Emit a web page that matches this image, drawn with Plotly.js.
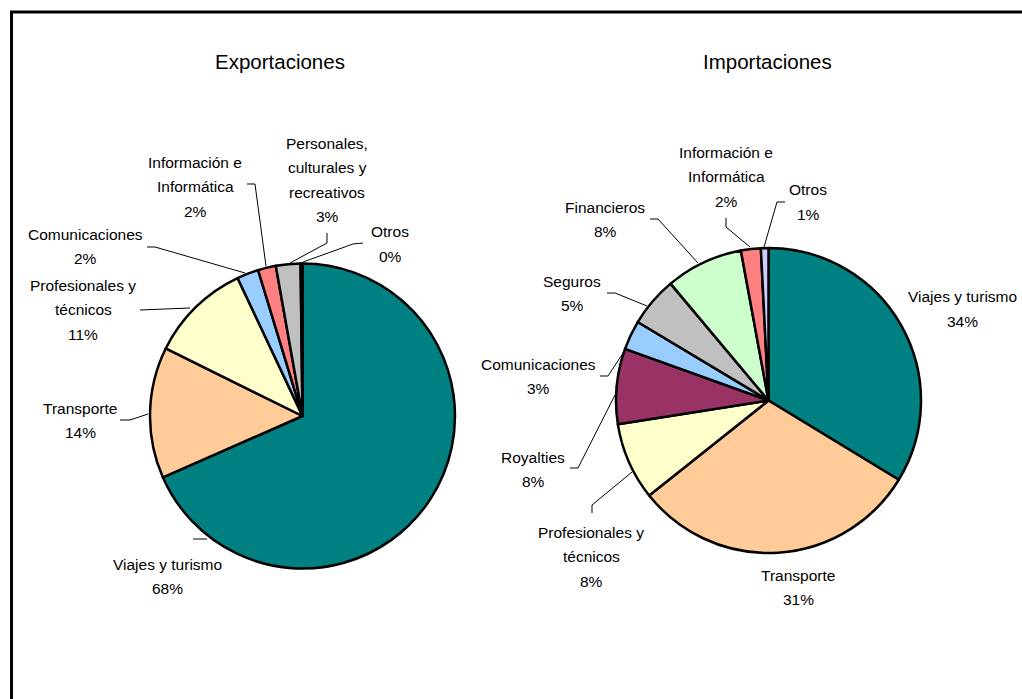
<!DOCTYPE html>
<html>
<head>
<meta charset="utf-8">
<script src="https://cdn.plot.ly/plotly-3.0.1.min.js"></script>
<style>html,body{margin:0;padding:0;background:#fff;}#chart{width:1022px;height:699px;}</style>
</head>
<body>
<div id="chart"></div>
<script>
// ---- data ----
const expTitle = 'Exportaciones';
const impTitle = 'Importaciones';

const expLabels = ['Viajes y turismo', 'Transporte', 'Profesionales y técnicos', 'Comunicaciones',
  'Información e Informática', 'Personales, culturales y recreativos', 'Otros'];
const expValues = [68.4, 13.9, 10.7, 2.3, 1.9, 2.6, 0.2];
const expLines = [['Viajes y turismo'], ['Transporte'], ['Profesionales y', 'técnicos'], ['Comunicaciones'],
  ['Información e', 'Informática'], ['Personales,', 'culturales y', 'recreativos'], ['Otros']];
const expColors = ['#008080', '#FFCC99', '#FFFFCC', '#99CCFF', '#FF8080', '#C0C0C0', '#000000'];

const impLabels = ['Viajes y turismo', 'Transporte', 'Profesionales y técnicos', 'Royalties', 'Comunicaciones',
  'Seguros', 'Financieros', 'Información e Informática', 'Otros'];
const impValues = [33.7, 30.6, 8.2, 8.0, 3.1, 5.3, 8.2, 2.1, 0.8];
const impLines = [['Viajes y turismo'], ['Transporte'], ['Profesionales y', 'técnicos'], ['Royalties'], ['Comunicaciones'],
  ['Seguros'], ['Financieros'], ['Información e', 'Informática'], ['Otros']];
const impColors = ['#008080', '#FFCC99', '#FFFFCC', '#993366', '#99CCFF', '#C0C0C0', '#CCFFCC', '#FF8080', '#CCCCFF'];

// ---- layout (pixel positions) ----
const W = 1022, H = 699;
const px = x => x / W;
const py = y => 1 - y / H;

const expLabelPos = [[167, 564], [80, 408], [83, 285], [85, 234], [195, 162], [327, 143], [390, 232]];
const impLabelPos = [[962, 297], [798, 575], [591, 532], [533, 457], [538, 364], [572, 281], [605, 207], [726, 152], [808, 190]];

const expLeaders = [
  [[193, 539], [207, 539]],
  [[120, 420], [130, 420], [148, 414]],
  [[140, 310], [190, 308]],
  [[147, 247], [155, 247], [245, 273]],
  [[247, 184], [255, 184], [266, 266]],
  [[327, 233], [327, 243], [290, 263]],
  [[363, 243], [353, 244], [303, 262]]
];
const impLeaders = [
  [[592, 513], [592, 505], [632, 472]],
  [[570, 468], [578, 468], [615, 395]],
  [[600, 376], [608, 376], [625, 350]],
  [[607, 293], [615, 293], [647, 306]],
  [[650, 219], [658, 219], [698, 263]],
  [[726, 218], [726, 227], [750, 247]],
  [[785, 202], [777, 202], [764, 247]]
];

const FONT = 'Liberation Sans, Arial, sans-serif';
const LINE = 24.5;

function pctText(values) {
  const s = values.reduce((a, b) => a + b, 0);
  return values.map(v => Math.round(v / s * 100) + '%');
}

const annotations = [];
function addLabels(lines, values, pos) {
  const pct = pctText(values);
  lines.forEach((ls, i) => {
    const all = ls.concat([pct[i]]);
    all.forEach((t, k) => {
      annotations.push({
        text: t, showarrow: false, xref: 'paper', yref: 'paper',
        x: px(pos[i][0]), y: py(pos[i][1] + k * LINE),
        xanchor: 'center', yanchor: 'middle',
        font: {family: FONT, size: 15.5, color: '#000'}
      });
    });
  });
}
addLabels(expLines, expValues, expLabelPos);
addLabels(impLines, impValues, impLabelPos);

annotations.push({text: expTitle, showarrow: false, xref: 'paper', yref: 'paper', x: px(280), y: py(62),
  xanchor: 'center', yanchor: 'middle', font: {family: FONT, size: 20.5, color: '#000'}});
annotations.push({text: impTitle, showarrow: false, xref: 'paper', yref: 'paper', x: px(767), y: py(62),
  xanchor: 'center', yanchor: 'middle', font: {family: FONT, size: 20.5, color: '#000'}});

const shapes = [];
expLeaders.concat(impLeaders).forEach(pts => {
  const d = pts.map((p, i) => (i ? 'L' : 'M') + px(p[0]) + ',' + py(p[1])).join(' ');
  shapes.push({type: 'path', xref: 'paper', yref: 'paper', path: d, line: {color: '#000', width: 1}});
});
shapes.push({type: 'rect', xref: 'paper', yref: 'paper', x0: px(11.5), y0: py(12), x1: 1.05, y1: -0.05,
  line: {color: '#000', width: 3}, fillcolor: 'rgba(0,0,0,0)'});

const common = {
  type: 'pie', sort: false, direction: 'clockwise', rotation: 0,
  textinfo: 'none', hoverinfo: 'label+percent', showlegend: false
};

const data = [
  Object.assign({}, common, {
    labels: expLabels, values: expValues,
    marker: {colors: expColors, line: {color: '#000', width: 2.5}},
    domain: {x: [px(150), px(455)], y: [py(568.5), py(263.5)]}
  }),
  Object.assign({}, common, {
    labels: impLabels, values: impValues,
    marker: {colors: impColors, line: {color: '#000', width: 2.5}},
    domain: {x: [px(616), px(921)], y: [py(553), py(248)]}
  })
];

const layout = {
  width: W, height: H,
  margin: {l: 0, r: 0, t: 0, b: 0},
  paper_bgcolor: '#fff', plot_bgcolor: '#fff',
  annotations: annotations, shapes: shapes,
  font: {family: FONT}
};

Plotly.newPlot('chart', data, layout, {displayModeBar: false, staticPlot: true});
</script>
</body>
</html>
